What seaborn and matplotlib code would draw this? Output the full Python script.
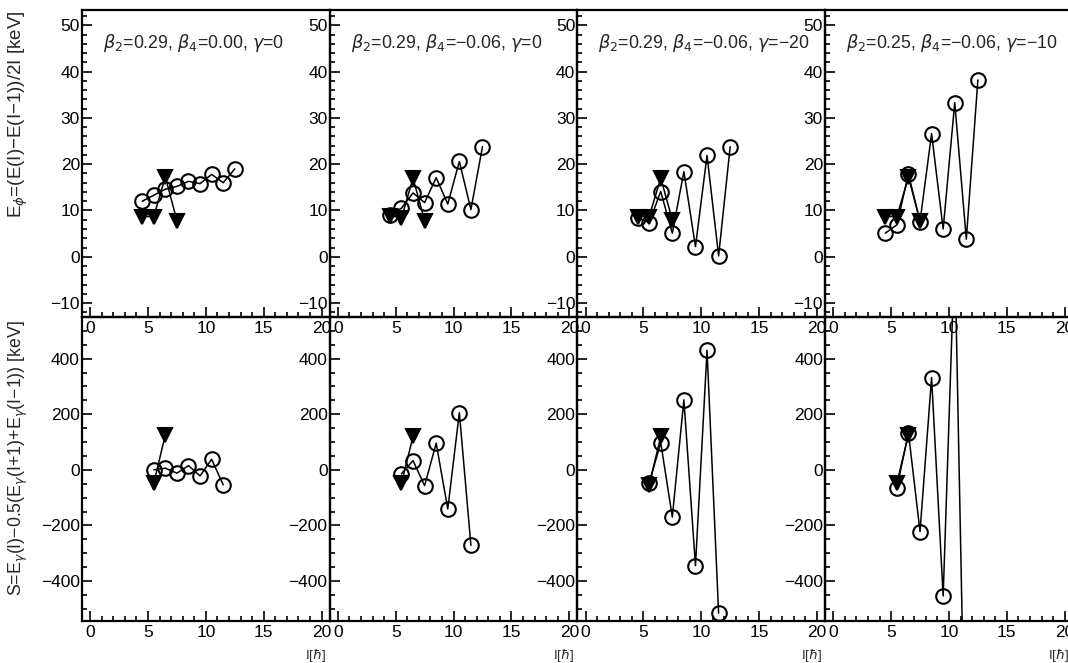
import numpy as np
import matplotlib
matplotlib.use("Agg")
import matplotlib.pyplot as plt
import matplotlib.transforms as mtransforms
from matplotlib.ticker import MultipleLocator
import seaborn as sns

# ---------------- data ----------------
spin_top = [4.5, 5.5, 6.5, 7.5, 8.5, 9.5, 10.5, 11.5, 12.5]
spin_tri_top = [4.5, 5.5, 6.5, 7.5]
spin_bot = [5.5, 6.5, 7.5, 8.5, 9.5, 10.5, 11.5]
spin_tri_bot = [5.5, 6.5]

panel_labels = [
    r"$\beta_2$=0.29, $\beta_4$=0.00, $\gamma$=0",
    r"$\beta_2$=0.29, $\beta_4$=−0.06, $\gamma$=0",
    r"$\beta_2$=0.29, $\beta_4$=−0.06, $\gamma$=−20",
    r"$\beta_2$=0.25, $\beta_4$=−0.06, $\gamma$=−10",
]

# upper row: E = (E(I)-E(I-1))/2I [keV]
top_circ_1 = [12.0, 13.3, 14.6, 15.2, 16.3, 15.8, 17.8, 16.0, 19.0]
top_circ_2 = [9.1, 10.5, 13.8, 11.7, 17.1, 11.4, 20.6, 10.2, 23.8]
top_circ_3 = [8.4, 7.4, 14.1, 5.1, 18.4, 2.2, 21.9, 0.2, 23.8]
top_circ_4 = [5.1, 6.9, 17.9, 7.6, 26.6, 6.0, 33.3, 3.8, 38.2]

top_tri_1 = [8.7, 8.7, 17.3, 7.8]
top_tri_2 = [8.9, 8.4, 17.0, 7.8]
top_tri_3 = [8.7, 8.7, 17.0, 8.0]
top_tri_4 = [8.7, 8.7, 17.2, 7.8]

# lower row: S [keV]
bot_circ_1 = [0, 6, -12, 15, -22, 38, -54]
bot_circ_2 = [-14, 33, -57, 96, -141, 206, -272]
bot_circ_3 = [-48, 98, -170, 252, -345, 430, -516]
bot_circ_4 = [-66, 134, -222, 332, -454, 800, -1300]

bot_tri_1 = [-48, 126]
bot_tri_2 = [-48, 120]
bot_tri_3 = [-54, 120]
bot_tri_4 = [-48, 126]

top_circ = [top_circ_1, top_circ_2, top_circ_3, top_circ_4]
top_tri = [top_tri_1, top_tri_2, top_tri_3, top_tri_4]
bot_circ = [bot_circ_1, bot_circ_2, bot_circ_3, bot_circ_4]
bot_tri = [bot_tri_1, bot_tri_2, bot_tri_3, bot_tri_4]

x_ticks = [0, 5, 10, 15, 20]
top_yticks = [-10, 0, 10, 20, 30, 40, 50]
bot_yticks = [-400, -200, 0, 200, 400]

# ---------------- style ----------------
sns.set_style("ticks")
plt.rcParams["font.family"] = ["Liberation Sans", "DejaVu Sans"]
plt.rcParams["mathtext.fontset"] = "dejavusans"
plt.rcParams["axes.linewidth"] = 1.6

W, H = 1068, 663
fig = plt.figure(figsize=(W / 100, H / 100), dpi=100)
fig.patch.set_facecolor("white")

col_w = 247.7
x0 = 82
top_y0, top_y1 = 10, 317
bot_y0, bot_y1 = 317, 621


def style_axes(ax, ylim, yticks, yminor):
    ax.set_facecolor("none")
    ax.set_xlim(-0.7, 20.7)
    ax.set_ylim(*ylim)
    ax.set_xticks(x_ticks)
    ax.xaxis.set_minor_locator(MultipleLocator(1))
    ax.set_yticks(yticks)
    ax.yaxis.set_minor_locator(MultipleLocator(yminor))
    ax.tick_params(which="both", direction="in", top=False, right=False,
                   colors="black", labelsize=12.5, width=1.2)
    ax.tick_params(which="major", length=7)
    ax.tick_params(which="minor", length=3.5)
    ax.tick_params(axis="y", pad=1.5)
    ax.tick_params(axis="x", pad=3)
    ax.set_yticklabels([str(v).replace("-", "−") for v in yticks])
    ax.set_xticklabels([str(v) for v in x_ticks])
    for s in ax.spines.values():
        s.set_visible(True)
        s.set_color("black")
        s.set_linewidth(1.6)
    ax.set_xlabel("")
    ax.set_ylabel("")


def draw_series(ax, xs, ys, marker, filled, ms):
    sns.lineplot(x=xs, y=ys, ax=ax, color="black", linewidth=1.1,
                 marker=marker, markersize=ms,
                 markerfacecolor=("black" if filled else "none"),
                 markeredgecolor="black", markeredgewidth=1.5,
                 estimator=None, errorbar=None, sort=False, legend=False)


for i in range(4):
    left = (x0 + col_w * i) / W
    # top row
    ax = fig.add_axes([left, 1 - top_y1 / H, col_w / W, (top_y1 - top_y0) / H])
    draw_series(ax, spin_top, top_circ[i], "o", False, 10.5)
    draw_series(ax, spin_tri_top, top_tri[i], "v", True, 10.5)
    style_axes(ax, (-13.0, 53.3), top_yticks, 2)
    ax.text(1.1, 46.2, panel_labels[i], fontsize=12.8, va="center", ha="left")

    # bottom row
    ax2 = fig.add_axes([left, 1 - bot_y1 / H, col_w / W, (bot_y1 - bot_y0) / H])
    draw_series(ax2, spin_bot, bot_circ[i], "o", False, 10.5)
    draw_series(ax2, spin_tri_bot, bot_tri[i], "v", True, 10.5)
    style_axes(ax2, (-544, 550), bot_yticks, 50)
    tr = mtransforms.blended_transform_factory(ax2.transData, ax2.transAxes)
    ax2.text(19.5, -0.112, r"I[$\hbar$]", transform=tr, fontsize=9.5,
             ha="center", va="center")

fig.text(0.017, 1 - 114 / H, r"E$_\phi$=(E(I)−E(I−1))/2I [keV]",
         rotation=90, fontsize=13.5, ha="center", va="center")
fig.text(0.017, 1 - 458 / H,
         r"S=E$_\gamma$(I)−0.5(E$_\gamma$(I+1)+E$_\gamma$(I−1)) [keV]",
         rotation=90, fontsize=12.8, ha="center", va="center")

fig.savefig("out.png", dpi=100, facecolor="white")
